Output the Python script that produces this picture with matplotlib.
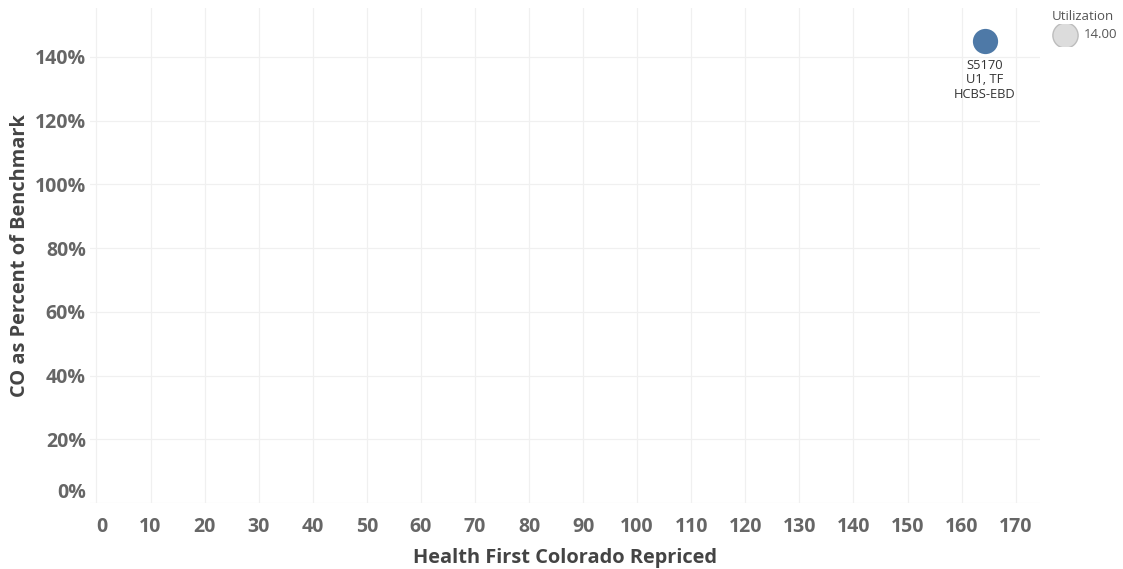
import matplotlib.pyplot as plt
import numpy as np

# data
codes = ['S5170\nU1, TF\nHCBS-EBD']
repriced = [164.3]
pct_benchmark = [1.451]
utilization = [14.00]

plt.rcParams['font.family'] = ['Open Sans', 'DejaVu Sans']

fig = plt.figure(figsize=(11.23, 5.69), dpi=100)
ax = fig.add_axes([90 / 1123, 66 / 569, 950 / 1123, 495 / 569])

ax.scatter(repriced, pct_benchmark, s=330, color='#4e79a7', zorder=3, linewidths=0)
for x, y, lab in zip(repriced, pct_benchmark, codes):
    ax.annotate(lab, (x, y), xytext=(0, -13), textcoords='offset points',
                ha='center', va='top', fontsize=9.3, color='#333333', linespacing=1.15)

ax.set_xlim(-1.2, 174.5)
ax.set_ylim(0, 1.553)
ax.set_xticks(np.arange(0, 171, 10))
ax.set_yticks(np.arange(0, 1.41, 0.2))
ax.set_yticklabels([f'{int(round(v * 100))}%' for v in np.arange(0, 1.41, 0.2)])
ax.grid(True, color='#f0f0f0', linewidth=0.9)
ax.set_axisbelow(True)
for s in ax.spines.values():
    s.set_visible(False)
ax.tick_params(length=0, labelsize=14, labelcolor='#666666')
ax.tick_params(axis='x', pad=10)
ax.tick_params(axis='y', pad=3)
for t in ax.get_xticklabels() + ax.get_yticklabels():
    t.set_fontweight('bold')
# Tableau nudges the edge labels inward
ax.get_yticklabels()[0].set_va('bottom')
ax.get_xticklabels()[0].set_ha('left')

ax.set_xlabel('Health First Colorado Repriced', fontsize=14.4, fontweight='bold',
              color='#444444', labelpad=8)
ax.set_ylabel('CO as Percent of Benchmark', fontsize=14.4, fontweight='bold',
              color='#444444', labelpad=3)

# size legend
fig.text(1083 / 1123, 1 - 17 / 569, 'Utilization', fontsize=9.5, color='#555555',
         ha='center', va='center')
lax = fig.add_axes([1050 / 1123, 1 - 46 / 569, 30 / 1123, 22 / 569])
lax.scatter([0], [0], s=330, color='#dcdcdc', edgecolors='#bdbdbd', linewidths=1)
lax.set_xlim(-1, 1)
lax.set_ylim(-1, 1)
lax.axis('off')
fig.text(1084 / 1123, 1 - 35 / 569, f'{utilization[0]:.2f}', fontsize=9.5,
         color='#555555', ha='left', va='center')

fig.savefig('out.png', dpi=100)
